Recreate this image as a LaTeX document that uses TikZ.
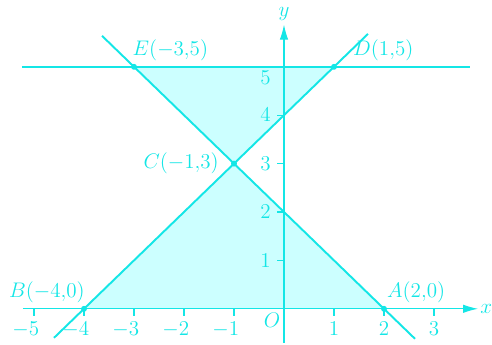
\documentclass[tikz,border=0pt]{standalone}
\usepackage{amsmath,amssymb}
\usepackage{tikz}
\usepackage{xcolor}
\usetikzlibrary{arrows.meta,positioning}
\definecolor{cy}{RGB}{20,230,230}
\definecolor{cyfill}{RGB}{204,255,255}

\begin{document}
\begin{tikzpicture}[
  x=1cm, y=0.968cm,
  >={Latex[length=3mm,width=1.7mm]},
  every node/.style={font=\fontsize{11.5}{13}\selectfont, text=cy},
  ln/.style={draw=cy, line width=1.1pt},
  ax/.style={draw=cy, line width=0.6pt},
  dot/.style={circle, fill=cy, inner sep=0pt, minimum size=3.4pt}
]
\useasboundingbox (-5.68,-0.744) rectangle (4.16,6.38);
% points
\coordinate (A) at (2,0);
\coordinate (B) at (-4,0);
\coordinate (C) at (-1,3);
\coordinate (D) at (1,5);
\coordinate (E) at (-3,5);
% shaded triangles
\fill[cyfill] (A) -- (B) -- (C) -- cycle;
\fill[cyfill] (C) -- (D) -- (E) -- cycle;
% axes
\coordinate (O) at (0,0);
\coordinate (xl) at (-5.22,0);
\coordinate (xr) at (3.88,0);
\coordinate (yb) at (0,-0.7);
\coordinate (yt) at (0,5.87);
\draw[ax,->] (xl) -- (xr) node[right, inner sep=1pt] (xlab) {$x$};
\draw[ax,->] (yb) -- (yt) node[above, inner sep=2pt] (ylab) {$y$};
\node[below left, inner sep=2pt] (olab) at (O) {$O$};
\foreach \i in {-5,-4,-3,-2,-1}{
  \draw[ax] (\i,0) -- (\i,-0.14) node[below] (xt\i) {\llap{$-$}$\the\numexpr-\i\relax$};}
\foreach \i in {1,2,3}{
  \draw[ax] (\i,0) -- (\i,-0.14) node[below] (xt\i) {$\i$};}
\foreach \j in {1,2,3,4}{
  \draw[ax] (0,\j) -- (-0.14,\j) node[left] (yt\j) {$\j$};}
\node[left] (yt5) at (-0.14,4.77) {$5$};
% lines
\coordinate (h1) at (-5.24,5);
\coordinate (h2) at (3.72,5);
\coordinate (p1) at (-4.6,-0.6);
\coordinate (p2) at (1.68,5.68);
\coordinate (q1) at (-3.64,5.64);
\coordinate (q2) at (2.62,-0.62);
\draw[ln] (h1) -- (h2);
\draw[ln] (p1) -- (p2);
\draw[ln] (q1) -- (q2);
% marked points
\foreach \p in {A,B,C,D,E}{\node[dot] (d\p) at (\p) {};}
\node[above right, xshift=-0.06cm] (alab) at (A) {$A(2{,}0)$};
\node[above left, xshift=0.14cm] (blab) at (B) {$B(-4{,}0)$};
\node[left, xshift=-0.18cm] (clab) at (C) {$C(-1{,}3)$};
\node[above right, xshift=0.26cm] (dlab) at (D) {$D(1{,}5)$};
\node[above right, xshift=-0.15cm] (elab) at (E) {$E(-3{,}5)$};
\end{tikzpicture}
\end{document}
